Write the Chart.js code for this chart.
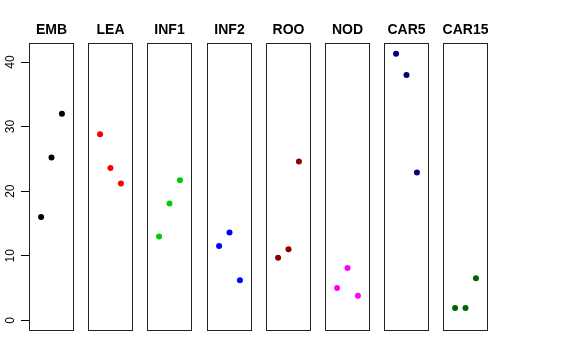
<!DOCTYPE html>
<html>
<head>
<meta charset="utf-8">
<script src="https://cdn.jsdelivr.net/npm/chart.js@4"></script>
<style>
  body { margin: 0; background: #fff; }
  #wrap { position: relative; width: 576px; height: 360px; overflow: hidden; }
  #wrap canvas { position: absolute; top: 0; }
</style>
</head>
<body>
<div id="wrap"></div>
<script>
// panel names and colours
const tissues = ["EMB", "LEA", "INF1", "INF2", "ROO", "NOD", "CAR5", "CAR15"];
const colors = ["#000000", "#FF0000", "#00CD00", "#0000FF", "#8B0000", "#FF00FF", "#000080", "#006400"];

// three samples per panel, drawn at x = 1, 2, 3
const sampleX = [1, 2, 3];
const EMB = [16.0, 25.2, 32.0];
const LEA = [28.8, 23.6, 21.2];
const INF1 = [13.0, 18.1, 21.7];
const INF2 = [11.5, 13.6, 6.2];
const ROO = [9.7, 11.0, 24.6];
const NOD = [5.0, 8.1, 3.8];
const CAR5 = [41.3, 38.0, 22.9];
const CAR15 = [1.9, 1.9, 6.5];
const seriesValues = [EMB, LEA, INF1, INF2, ROO, NOD, CAR5, CAR15];

const yTicks = [0, 10, 20, 30, 40];

const wrap = document.getElementById("wrap");

const panelPlugin = {
  id: "panelPlugin",
  afterDraw(chart) {
    const { ctx, chartArea } = chart;
    const a = chartArea;
    ctx.save();
    // box round the panel
    ctx.strokeStyle = "#222";
    ctx.lineWidth = 1;
    ctx.strokeRect(a.left + 0.5, a.top + 0.5, a.right - a.left - 1, a.bottom - a.top - 1);
    // title above
    ctx.fillStyle = "#000";
    ctx.font = "bold 14px 'Liberation Sans', Arial, sans-serif";
    ctx.textAlign = "center";
    ctx.textBaseline = "alphabetic";
    ctx.fillText(chart.options.panelTitle, (a.left + a.right) / 2, 34);
    // rotated y labels on the first panel only
    if (chart.options.scales.y.display) {
      const ys = chart.scales.y;
      ctx.font = "12px 'Liberation Sans', Arial, sans-serif";
      ys.ticks.forEach((t) => {
        const py = ys.getPixelForValue(t.value);
        ctx.save();
        ctx.translate(14, py);
        ctx.rotate(-Math.PI / 2);
        ctx.fillText(String(t.value), 0, 0);
        ctx.restore();
      });
    }
    ctx.restore();
  },
};

tissues.forEach((name, i) => {
  const first = i === 0;
  const canvas = document.createElement("canvas");
  const boxLeft = Math.round(29 + 59.2 * i);
  const left = first ? 0 : boxLeft - 8;
  const width = first ? 84 : 61;
  canvas.width = width;
  canvas.height = 360;
  canvas.style.left = left + "px";
  canvas.style.width = width + "px";
  canvas.style.height = "360px";
  wrap.append(canvas);

  const yScale = {
    type: "linear",
    min: -1.65,
    max: 42.95,
    display: first,
    afterBuildTicks: (scale) => {
      scale.ticks = yTicks.map((v) => ({ value: v }));
    },
    ticks: { display: false },
    border: { display: false },
    grid: {
      drawOnChartArea: false,
      drawTicks: true,
      tickLength: 8,
      color: "#000",
    },
  };
  if (first) {
    yScale.afterFit = (scale) => {
      scale.width = 29;
    };
  }

  new Chart(canvas, {
    type: "scatter",
    data: {
      datasets: [
        {
          data: sampleX.map((x, j) => ({ x: x, y: seriesValues[i][j] })),
          backgroundColor: colors[i],
          borderWidth: 0,
          pointRadius: 3,
        },
      ],
    },
    options: {
      panelTitle: name,
      responsive: false,
      animation: false,
      layout: { padding: { top: 43, bottom: 29, left: first ? 0 : 8, right: first ? 10 : 8 } },
      plugins: { legend: { display: false }, tooltip: { enabled: false } },
      scales: {
        x: { type: "linear", min: -0.16, max: 4.16, display: false },
        y: yScale,
      },
    },
    plugins: [panelPlugin],
  });
});
</script>
</body>
</html>
